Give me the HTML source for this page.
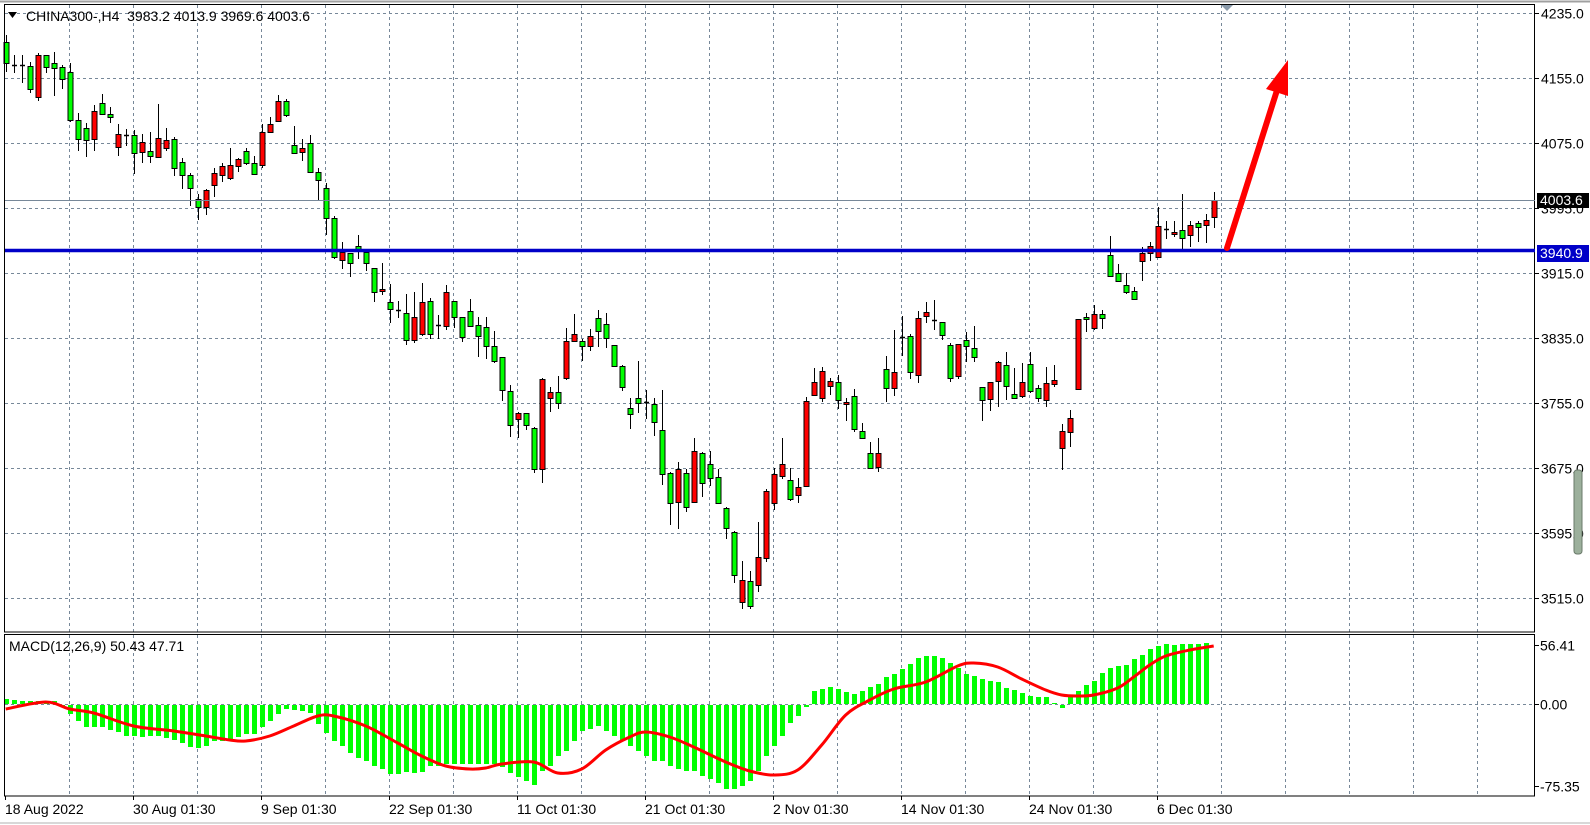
<!DOCTYPE html>
<html><head><meta charset="utf-8"><style>
html,body{margin:0;padding:0;background:#fff;}
svg{display:block;}
text{font-family:"Liberation Sans",sans-serif;font-size:14px;fill:#000;white-space:pre;}
</style></head><body>
<svg id="s" width="1590" height="825" xmlns="http://www.w3.org/2000/svg">
<rect x="0" y="0" width="1590" height="825" fill="#fff"/>
<line x1="0" y1="1.5" x2="1590" y2="1.5" stroke="#a0a0a0" stroke-width="2"/>
<line x1="0" y1="823" x2="1590" y2="823" stroke="#d8d8d8" stroke-width="2"/>
<g id="grid"></g>
<g id="macd"></g>
<g id="candles"></g>
<rect x="4.5" y="4.5" width="1530" height="627.5" fill="none" stroke="#000" stroke-width="1"/>
<rect x="4.5" y="634.5" width="1530" height="161.5" fill="none" stroke="#000" stroke-width="1"/>
<line x1="5" y1="200.5" x2="1535" y2="200.5" stroke="#778899" stroke-width="1"/>
<line x1="5" y1="250.5" x2="1535" y2="250.5" stroke="#0000c8" stroke-width="3.5"/>
<line x1="1227" y1="248" x2="1279" y2="84" stroke="#ff0000" stroke-width="6" stroke-linecap="round"/>
<polygon points="1266,89 1288,60 1288,96" fill="#ff0000"/>
<polygon points="1221,5 1233,5 1227,11" fill="#8a9aaa"/>
<polygon points="8,12 17,12 12.5,18" fill="#000"/>
<text x="26" y="21" xml:space="preserve">CHINA300-,H4  3983.2 4013.9 3969.6 4003.6</text>
<text x="9" y="651">MACD(12,26,9) 50.43 47.71</text>
<g id="axis"></g>
<rect x="1537" y="193" width="52" height="15" fill="#000"/>
<text x="1540" y="205" style="fill:#fff">4003.6</text>
<rect x="1537" y="245" width="52" height="17" fill="#0000c8"/>
<text x="1540" y="258" style="fill:#fff">3940.9</text>
<rect x="1574" y="470" width="8" height="84" rx="3" fill="#9cb09c" stroke="#6a7a6a" stroke-width="1"/>
</svg>
<script>
var NS="http://www.w3.org/2000/svg";
function el(p,t,a){var e=document.createElementNS(NS,t);for(var k in a)e.setAttribute(k,a[k]);p.appendChild(e);return e;}
var grid=document.getElementById('grid'),ax=document.getElementById('axis'),cg=document.getElementById('candles'),mg=document.getElementById('macd');
var gs={stroke:"#778899","stroke-width":1,"stroke-dasharray":"3,3"};
for(var x=69;x<1535;x+=64){el(grid,'line',Object.assign({x1:x+.5,y1:5,x2:x+.5,y2:796},gs));}
var prices=["4235.0","4155.0","4075.0","3995.0","3915.0","3835.0","3755.0","3675.0","3595.0","3515.0"];
for(var k=0;k<10;k++){var y=Math.round(12.7+65*k)+.5;el(grid,'line',Object.assign({x1:5,y1:y,x2:1535,y2:y},gs));
 el(ax,'line',{x1:1535,y1:y,x2:1539,y2:y,stroke:"#000"});var t=el(ax,'text',{x:1541,y:y+5});t.textContent=prices[k];}
el(grid,'line',Object.assign({x1:5,y1:704.5,x2:1535,y2:704.5},gs));
[[645.5,"56.41"],[704.5,"0.00"],[786.5,"-75.35"]].forEach(function(a){el(ax,'line',{x1:1535,y1:a[0],x2:1539,y2:a[0],stroke:"#000"});var t=el(ax,'text',{x:1540,y:a[0]+5});t.textContent=a[1];});
var dates=["18 Aug 2022","30 Aug 01:30","9 Sep 01:30","22 Sep 01:30","11 Oct 01:30","21 Oct 01:30","2 Nov 01:30","14 Nov 01:30","24 Nov 01:30","6 Dec 01:30"];
for(var d=0;d<10;d++){var xx=5+128*d;el(ax,'line',{x1:xx+.5,y1:796,x2:xx+.5,y2:800,stroke:"#000"});var t=el(ax,'text',{x:xx,y:814});t.textContent=dates[d];}
var C=[[42,63,35,72,'g'],[65,65,55,73,'d'],[65,65,55,83,'d'],[66,89,62,93,'g'],[55,97,53,101,'r'],[55,67,55,73,'g'],[63,68,52,96,'g'],[67,79,65,89,'g'],[72,120,63,122,'g'],[120,139,113,151,'g'],
[128,140,123,157,'g'],[111,139,105,151,'r'],[103,114,94,115,'g'],[114,117,107,123,'g'],[134,147,124,156,'r'],[135,135,129,146,'d'],[135,153,130,174,'g'],[142,152,134,163,'r'],[151,156,132,163,'g'],[138,157,104,157,'r'],
[140,148,128,151,'r'],[139,168,137,176,'g'],[162,175,158,189,'g'],[175,188,173,206,'g'],[199,207,194,220,'g'],[190,207,189,215,'r'],[173,185,168,197,'r'],[166,175,163,182,'r'],[165,178,148,180,'r'],[159,166,158,172,'r'],
[151,163,148,165,'g'],[163,174,156,174,'g'],[132,165,124,168,'r'],[124,132,117,133,'r'],[101,121,95,122,'r'],[101,115,99,117,'g'],[145,153,126,154,'g'],[148,152,139,161,'r'],[143,172,135,173,'g'],[172,180,168,201,'g'],
[188,218,183,235,'g'],[218,257,216,259,'g'],[252,260,242,269,'r'],[253,263,253,277,'g'],[246,249,235,259,'g'],[252,263,252,271,'g'],[268,292,268,302,'g'],[289,291,263,295,'r'],[302,309,284,323,'g'],[310,310,301,318,'d'],
[313,340,294,345,'g'],[317,340,292,343,'r'],[302,334,283,336,'r'],[301,334,298,339,'g'],[325,325,315,339,'d'],[292,326,285,330,'r'],[301,317,301,328,'g'],[317,337,317,342,'g'],[311,326,299,327,'g'],[325,336,317,357,'g'],
[327,346,317,359,'g'],[346,361,331,363,'g'],[357,390,357,401,'g'],[391,425,385,437,'g'],[413,419,412,438,'r'],[413,425,413,430,'g'],[428,469,427,473,'g'],[379,469,378,483,'r'],[392,398,387,412,'r'],[392,403,376,409,'g'],
[341,378,328,380,'r'],[334,341,314,342,'r'],[341,346,339,361,'g'],[336,346,329,351,'r'],[318,331,310,347,'g'],[324,338,313,348,'g'],[345,366,345,367,'g'],[366,387,365,391,'g'],[408,414,398,429,'g'],[398,403,361,413,'g'],
[402,402,390,419,'d'],[404,422,398,436,'g'],[430,474,390,485,'g'],[473,503,472,525,'g'],[469,502,462,529,'r'],[473,507,469,512,'g'],[451,502,438,503,'r'],[453,483,452,497,'g'],[464,478,451,486,'g'],[477,503,469,504,'g'],
[508,528,507,539,'g'],[532,575,531,583,'g'],[580,602,561,609,'r'],[581,606,571,609,'g'],[557,585,522,592,'r'],[491,558,489,562,'r'],[474,503,468,510,'r'],[464,476,438,479,'r'],[480,499,468,501,'g'],[487,495,478,503,'r'],
[401,486,397,486,'r'],[382,395,368,396,'r'],[371,398,367,402,'r'],[381,386,378,395,'r'],[382,400,375,409,'g'],[402,404,398,421,'r'],[396,429,389,432,'g'],[431,438,423,439,'g'],[453,468,442,469,'g'],[453,467,438,472,'r'],
[369,388,356,402,'g'],[372,388,330,396,'r'],[337,337,316,356,'d'],[336,372,334,379,'g'],[318,375,311,383,'r'],[312,316,302,323,'r'],[320,320,300,330,'d'],[322,335,322,340,'g'],[345,378,343,382,'g'],[344,376,344,379,'r'],
[340,346,332,362,'g'],[348,357,326,362,'g'],[387,400,387,421,'g'],[382,399,382,411,'r'],[362,381,361,407,'r'],[365,386,352,400,'g'],[394,398,368,399,'g'],[382,396,363,398,'r'],[364,391,352,393,'g'],[388,398,385,402,'g'],
[383,400,367,407,'r'],[380,384,365,387,'r'],[431,448,424,470,'r'],[418,432,410,447,'r'],[319,389,319,389,'r'],[317,319,313,332,'g'],[314,328,305,330,'r'],[314,318,310,329,'g'],[255,276,236,277,'g'],[273,281,264,282,'g'],
[285,292,273,294,'g'],[291,299,287,300,'g'],[253,261,247,281,'r'],[246,253,242,261,'r'],[226,257,207,258,'r'],[229,229,221,239,'d'],[232,234,221,237,'r'],[230,238,194,249,'g'],[225,235,221,247,'r'],[223,227,221,242,'g'],
[220,225,214,243,'r'],[200,217,192,228,'r']];
C.forEach(function(c,i){var x=Math.round(5.7+8*i);
 el(cg,'line',{x1:x+.5,y1:c[2],x2:x+.5,y2:c[3],stroke:"#000","stroke-width":1});
 if(c[4]=='d'){el(cg,'line',{x1:x-2,y1:c[0]+.5,x2:x+3,y2:c[0]+.5,stroke:"#000","stroke-width":1.5});}
 else{var h=Math.max(c[1]-c[0],2);el(cg,'rect',{x:x-2,y:c[0]+.5,width:5,height:h,fill:c[4]=='g'?"#00ff00":"#ff0000",stroke:"#000","stroke-width":1});}
});
var H=[5,4,3,3,3,3,3,-2,-9,-16,-22,-22,-22,-25,-27,-31,-31,-32,-31,-31,-33,-35,-38,-42,-43,-41,-36,-36,-36,-32,-29,-29,-22,-16,-9,-4,-5,-6,-8,-19,
-28,-36,-41,-48,-53,-56,-61,-64,-69,-69,-67,-68,-67,-61,-61,-59,-59,-59,-59,-59,-59,-59,-62,-68,-72,-76,-80,-66,-61,-51,
-46,-36,-26,-24,-21,-26,-31,-36,-41,-46,-51,-56,-56,-61,-64,-66,-66,-71,-74,-78,-84,-84,-81,-76,-66,-51,-41,-31,-18,-11,
-2,13,15,17,15,12,10,13,17,20,27,30,35,40,46,48,48,46,41,36,30,28,25,23,22,16,14,11,8,7,7,1,-3,8,13,19,23,31,36,38,39,45,49,55,58,60,59,60,60,60,61];
H.forEach(function(v,i){var x=Math.round(5.7+8*i)-2;var y0=704;
 if(v>=0)el(mg,'rect',{x:x,y:y0-v,width:5,height:Math.max(v,1),fill:"#00ff00"});
 else el(mg,'rect',{x:x,y:y0+1,width:5,height:-v,fill:"#00ff00"});});
var S=[[0,-5],[5,2],[8,-5],[11,-9],[16,-22],[21,-27],[25,-32],[28,-36],[30,-37],[33,-32],[36,-22],[39,-12],[41,-12],[45,-22],[49,-39],[52,-52],[55,-62],[58,-65],[60,-64],[62,-60],[66,-58],[69,-69],[72,-65],[75,-46],[78,-33],[80,-28],[83,-33],[86,-43],[90,-58],[93,-67],[96,-71],[99,-66],[102,-41],[105,-11],[108,4],[111,15],[115,22],[119,38],[121,41],[124,37],[127,25],[130,14],[132,9],[134,8],[136,9],[139,16],[141,27],[143,39],[145,48],[148,54],[151,58]];
var pts=S.map(function(p){return [5.7+8*p[0],704-p[1]];});
var d="M"+pts[0][0]+","+pts[0][1];
for(var i=0;i<pts.length-1;i++){var p0=pts[Math.max(i-1,0)],p1=pts[i],p2=pts[i+1],p3=pts[Math.min(i+2,pts.length-1)];
 d+=" C"+(p1[0]+(p2[0]-p0[0])/6)+","+(p1[1]+(p2[1]-p0[1])/6)+" "+(p2[0]-(p3[0]-p1[0])/6)+","+(p2[1]-(p3[1]-p1[1])/6)+" "+p2[0]+","+p2[1];}
el(mg,'path',{d:d,fill:"none",stroke:"#ff0000","stroke-width":3});
</script>
</body></html>
